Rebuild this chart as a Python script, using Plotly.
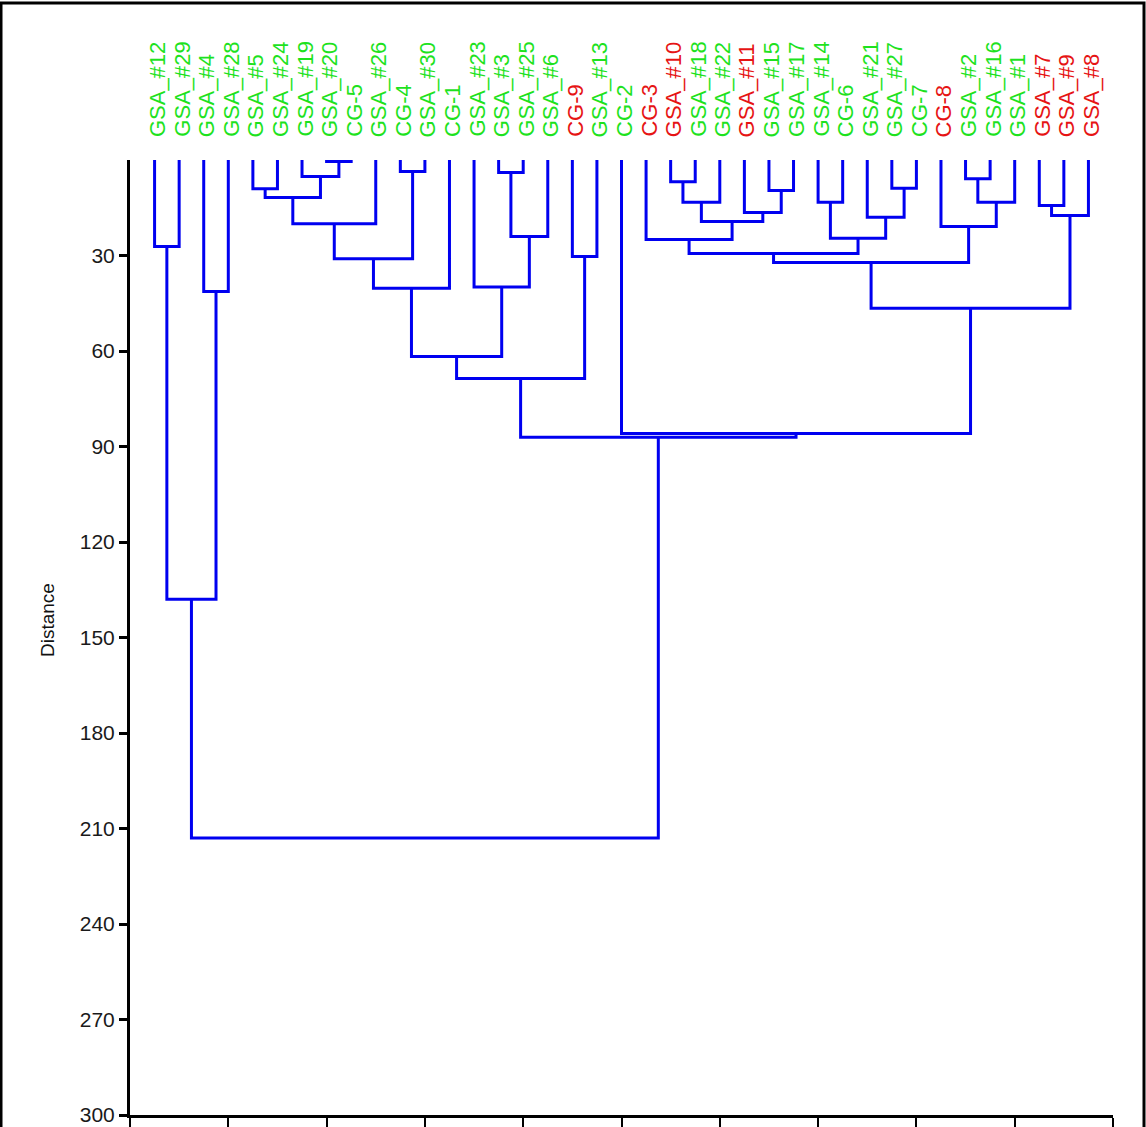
import plotly.graph_objects as go

# ---- data ----
labels = ["GSA_#12", "GSA_#29", "GSA_#4", "GSA_#28", "GSA_#5", "GSA_#24", "GSA_#19",
          "GSA_#20", "CG-5", "GSA_#26", "CG-4", "GSA_#30", "CG-1", "GSA_#23", "GSA_#3",
          "GSA_#25", "GSA_#6", "CG-9", "GSA_#13", "CG-2", "CG-3", "GSA_#10", "GSA_#18",
          "GSA_#22", "GSA_#11", "GSA_#15", "GSA_#17", "GSA_#14", "CG-6", "GSA_#21",
          "GSA_#27", "CG-7", "CG-8", "GSA_#2", "GSA_#16", "GSA_#1", "GSA_#7", "GSA_#9",
          "GSA_#8"]
label_group = ["g", "g", "g", "g", "g", "g", "g", "g", "g", "g", "g", "g", "g", "g", "g",
               "g", "g", "r", "g", "g", "r", "r", "g", "g", "r", "g", "g", "g", "g", "g",
               "g", "g", "r", "g", "g", "g", "r", "r", "r"]

# linkage: (left node, right node, distance); leaves are 0..38, merges numbered from 39
merge_left = [7, 6, 4, 41, 42, 10, 43, 45, 14, 47, 13, 46, 17, 50, 0, 2, 53,
              21, 56, 25, 24, 57, 20, 27, 30, 29, 62, 61, 33, 67, 32, 66, 36, 71, 70,
              19, 52, 55]
merge_right = [8, 39, 5, 40, 9, 11, 44, 12, 15, 16, 48, 49, 18, 51, 1, 3, 54,
               22, 23, 26, 58, 59, 60, 28, 31, 63, 64, 65, 34, 35, 68, 69, 37, 38, 72,
               73, 74, 75]
merge_dist = [0.5, 5.2, 9.0, 11.8, 20.0, 3.6, 31.0, 40.3, 3.9, 24.0, 39.9, 61.7, 30.3,
              68.6, 27.2, 41.3, 138.0, 6.8, 13.3, 9.6, 16.5, 19.3, 25.0, 13.3, 8.9,
              18.0, 24.6, 29.4, 5.9, 13.3, 20.9, 32.2, 14.3, 17.4, 46.6, 85.9, 87.1,
              213.0]

y_ticks = [30, 60, 90, 120, 150, 180, 210, 240, 270, 300]

# ---- build dendrogram geometry via node positions ----
n_leaves = len(labels)
node_x = {i: float(i) for i in range(n_leaves)}
node_h = {i: 0.0 for i in range(n_leaves)}
xs, ys = [], []
for k, (a, b, h) in enumerate(zip(merge_left, merge_right, merge_dist)):
    nid = n_leaves + k
    xa, xb = node_x[a], node_x[b]
    xs += [xa, xa, xb, xb, None]
    ys += [node_h[a], h, h, node_h[b], None]
    node_x[nid] = (xa + xb) / 2
    node_h[nid] = h

fig = go.Figure()
fig.add_trace(go.Scatter(x=xs, y=ys, mode="lines",
                         line=dict(color="#0000f0", width=3),
                         hoverinfo="skip", showlegend=False))

colors = {"g": "#1ee21e", "r": "#e61414"}
W, H = 1146, 1127
ml, mr, mt, mb = 130, 33, 160, 12
ph = H - mt - mb
pw = W - ml - mr

for i, (lab, g) in enumerate(zip(labels, label_group)):
    fig.add_annotation(x=i, y=(H - mb - 139) / ph, xref="x", yref="paper",
                       text=lab, textangle=-90, showarrow=False,
                       xanchor="center", yanchor="bottom", xshift=3,
                       font=dict(family="Liberation Sans, Arial", size=22, color=colors[g]))

fig.add_annotation(x=(47 - ml) / pw, y=(H - mb - 620) / ph, xref="paper", yref="paper",
                   text="Distance", textangle=-90, showarrow=False,
                   xanchor="center", yanchor="middle",
                   font=dict(family="Liberation Sans, Arial", size=19, color="#111111"))

# outer frame
fig.add_shape(type="rect", xref="paper", yref="paper",
              x0=(1 - ml) / pw, x1=(1144 - ml) / pw,
              y0=-0.2, y1=(H - mb - 3) / ph,
              line=dict(color="black", width=3), layer="below")

fig.update_layout(
    width=W, height=H,
    margin=dict(l=ml, r=mr, t=mt, b=mb, autoexpand=False),
    paper_bgcolor="white", plot_bgcolor="white",
    xaxis=dict(range=[-1, 39], tickvals=list(range(-1, 40, 4)), showticklabels=False,
               ticks="outside", ticklen=12, tickwidth=2, tickcolor="black",
               showline=True, linecolor="black", linewidth=3, automargin=False,
               showgrid=False, zeroline=False),
    yaxis=dict(range=[300, 0], tickvals=y_ticks, ticks="outside", ticklen=8,
               tickwidth=3, tickcolor="black", showline=True, linecolor="black",
               linewidth=3, showgrid=False, zeroline=False, automargin=False,
               tickfont=dict(family="Liberation Sans, Arial", size=21, color="#1a1a1a")),
)

fig.write_html("out.html", config={"displayModeBar": False},
               post_script="document.body.style.margin='0';document.body.style.overflow='hidden';")
